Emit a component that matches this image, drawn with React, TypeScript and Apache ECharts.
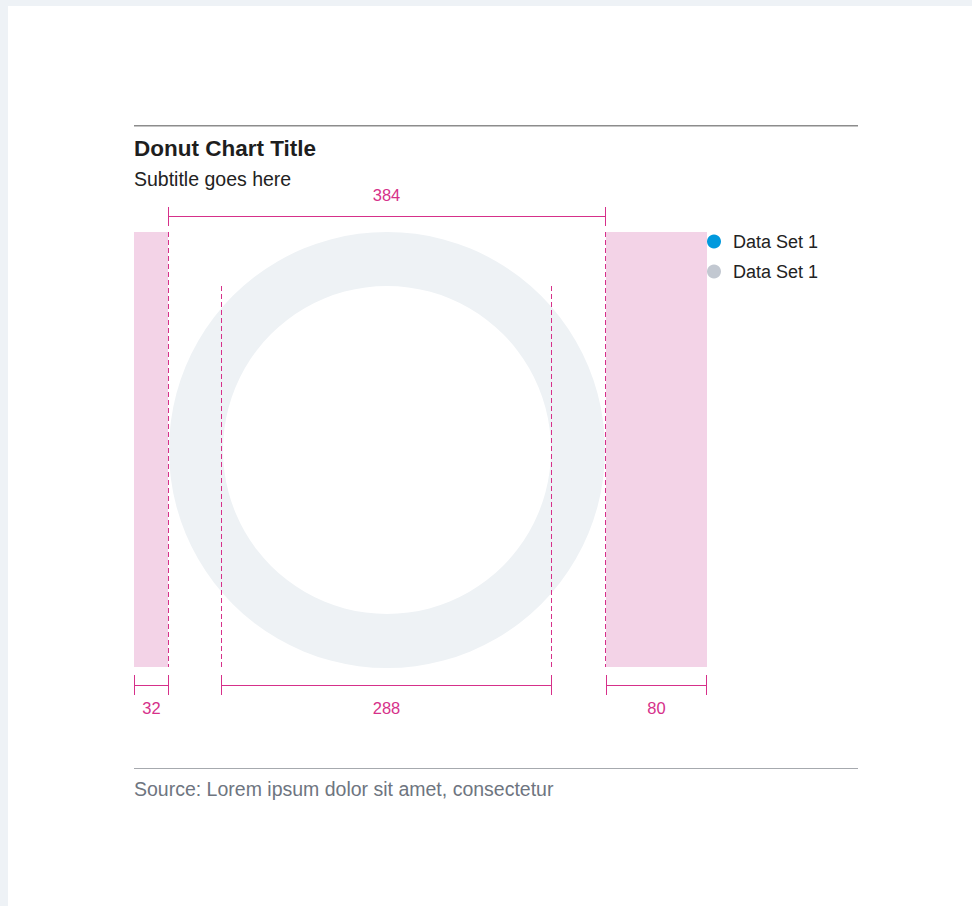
import React, { useEffect, useRef } from "react";
import * as echarts from "echarts";

// ---- data ----
const itemKeys = ["set-a", "set-b"];
const itemLabels = ["Data Set 1", "Data Set 1"];
const itemValues = [0, 0];
const titleText = "Donut Chart Title";
const subtitleText = "Subtitle goes here";
const sourceText = "Source: Lorem ipsum dolor sit amet, consectetur";
const topDimLabel = "384";
const bottomDimLabels = ["32", "288", "80"];

// ---- styles ----
const itemColors = ["#0099dd", "#c2c8d1"];
const PINK = "#d6308a";
const PINK_FILL = "#f3d3e7";
const RING = "#eef2f5";
const FONT = "'Liberation Sans', Arial, Helvetica, sans-serif";

export default function App() {
  const ref = useRef<HTMLDivElement>(null);
  useEffect(() => {
    if (!ref.current) return;
    const chart = echarts.init(ref.current, undefined, { renderer: "svg" });
    const line = (x1: number, y1: number, x2: number, y2: number, dash?: number[], z = 10) => ({
      type: "line",
      z,
      silent: true,
      shape: { x1, y1, x2, y2 },
      style: { stroke: PINK, lineWidth: 1, lineDash: dash },
    });
    const dash = [5, 3];
    const text = (t: string, x: number, y: number, size: number, color: string, opts: any = {}) => ({
      type: "text",
      z: 10,
      silent: true,
      x,
      y,
      style: {
        text: t,
        fill: color,
        fontSize: size,
        fontFamily: FONT,
        fontWeight: opts.weight || "normal",
        align: opts.align || "left",
        verticalAlign: "middle",
      },
    });
    const pieCommon = {
      type: "pie",
      center: [387, 450],
      radius: [164, 218],
      silent: true,
      label: { show: false },
      labelLine: { show: false },
    };
    chart.setOption({
      animation: false,
      backgroundColor: "#eef2f6",
      legend: {
        orient: "vertical",
        left: 707,
        top: 232.5,
        padding: 0,
        itemWidth: 14,
        itemHeight: 14,
        itemGap: 12,
        icon: "circle",
        data: itemKeys,
        formatter: (name: string) => itemLabels[itemKeys.indexOf(name)],
        textStyle: {
          fontSize: 18,
          lineHeight: 18,
          fontFamily: FONT,
          color: "#222222",
          padding: [0, 0, 0, 7],
        },
      },
      series: [
        {
          ...pieCommon,
          name: "track",
          showEmptyCircle: true,
          emptyCircleStyle: { color: RING },
          data: [],
        },
        {
          ...pieCommon,
          name: "values",
          stillShowZeroSum: false,
          showEmptyCircle: false,
          data: itemKeys.map((k, i) => ({
            name: k,
            value: itemValues[i],
            itemStyle: { color: itemColors[i] },
          })),
        },
      ],
      graphic: [
        { type: "rect", z: -1, silent: true, shape: { x: 8, y: 6, width: 964, height: 900 }, style: { fill: "#ffffff" } },
        { type: "rect", z: 1, silent: true, shape: { x: 134, y: 125, width: 724, height: 1.5 }, style: { fill: "#8c8c8c" } },
        { type: "rect", z: 1, silent: true, shape: { x: 134, y: 768, width: 724, height: 1 }, style: { fill: "#a6a9ae" } },
        text(titleText, 134, 148.5, 22.5, "#1e1e1e", { weight: "bold" }),
        text(subtitleText, 134, 178.5, 19.5, "#222222"),
        text(sourceText, 134, 789, 19.5, "#6e7580"),
        // pink gutters
        { type: "rect", z: 1, silent: true, shape: { x: 134, y: 232, width: 34, height: 435 }, style: { fill: PINK_FILL } },
        { type: "rect", z: 1, silent: true, shape: { x: 606, y: 232, width: 101, height: 435 }, style: { fill: PINK_FILL } },
        // top dimension
        line(168.5, 216.5, 605.5, 216.5),
        line(168.5, 207, 168.5, 226),
        line(605.5, 207, 605.5, 226),
        text(topDimLabel, 386.5, 195, 16.5, PINK, { align: "center" }),
        // dashed guides
        line(168.5, 232, 168.5, 667, dash),
        line(605.5, 232, 605.5, 667, dash),
        line(221.5, 286, 221.5, 667, dash),
        line(551.5, 286, 551.5, 667, dash),
        // bottom dimensions
        line(134.5, 685.5, 168.5, 685.5),
        line(134.5, 675, 134.5, 695),
        line(168.5, 675, 168.5, 695),
        line(221.5, 685.5, 551.5, 685.5),
        line(221.5, 675, 221.5, 695),
        line(551.5, 675, 551.5, 695),
        line(606.5, 685.5, 706.5, 685.5),
        line(606.5, 675, 606.5, 695),
        line(706.5, 675, 706.5, 695),
        text(bottomDimLabels[0], 151.5, 708, 16.5, PINK, { align: "center" }),
        text(bottomDimLabels[1], 386.5, 708, 16.5, PINK, { align: "center" }),
        text(bottomDimLabels[2], 656.5, 708, 16.5, PINK, { align: "center" }),
      ],
    });
    return () => chart.dispose();
  }, []);
  return (
    <div
      ref={ref}
      style={{ position: "absolute", left: 0, top: 0, width: 972, height: 906 }}
    />
  );
}
